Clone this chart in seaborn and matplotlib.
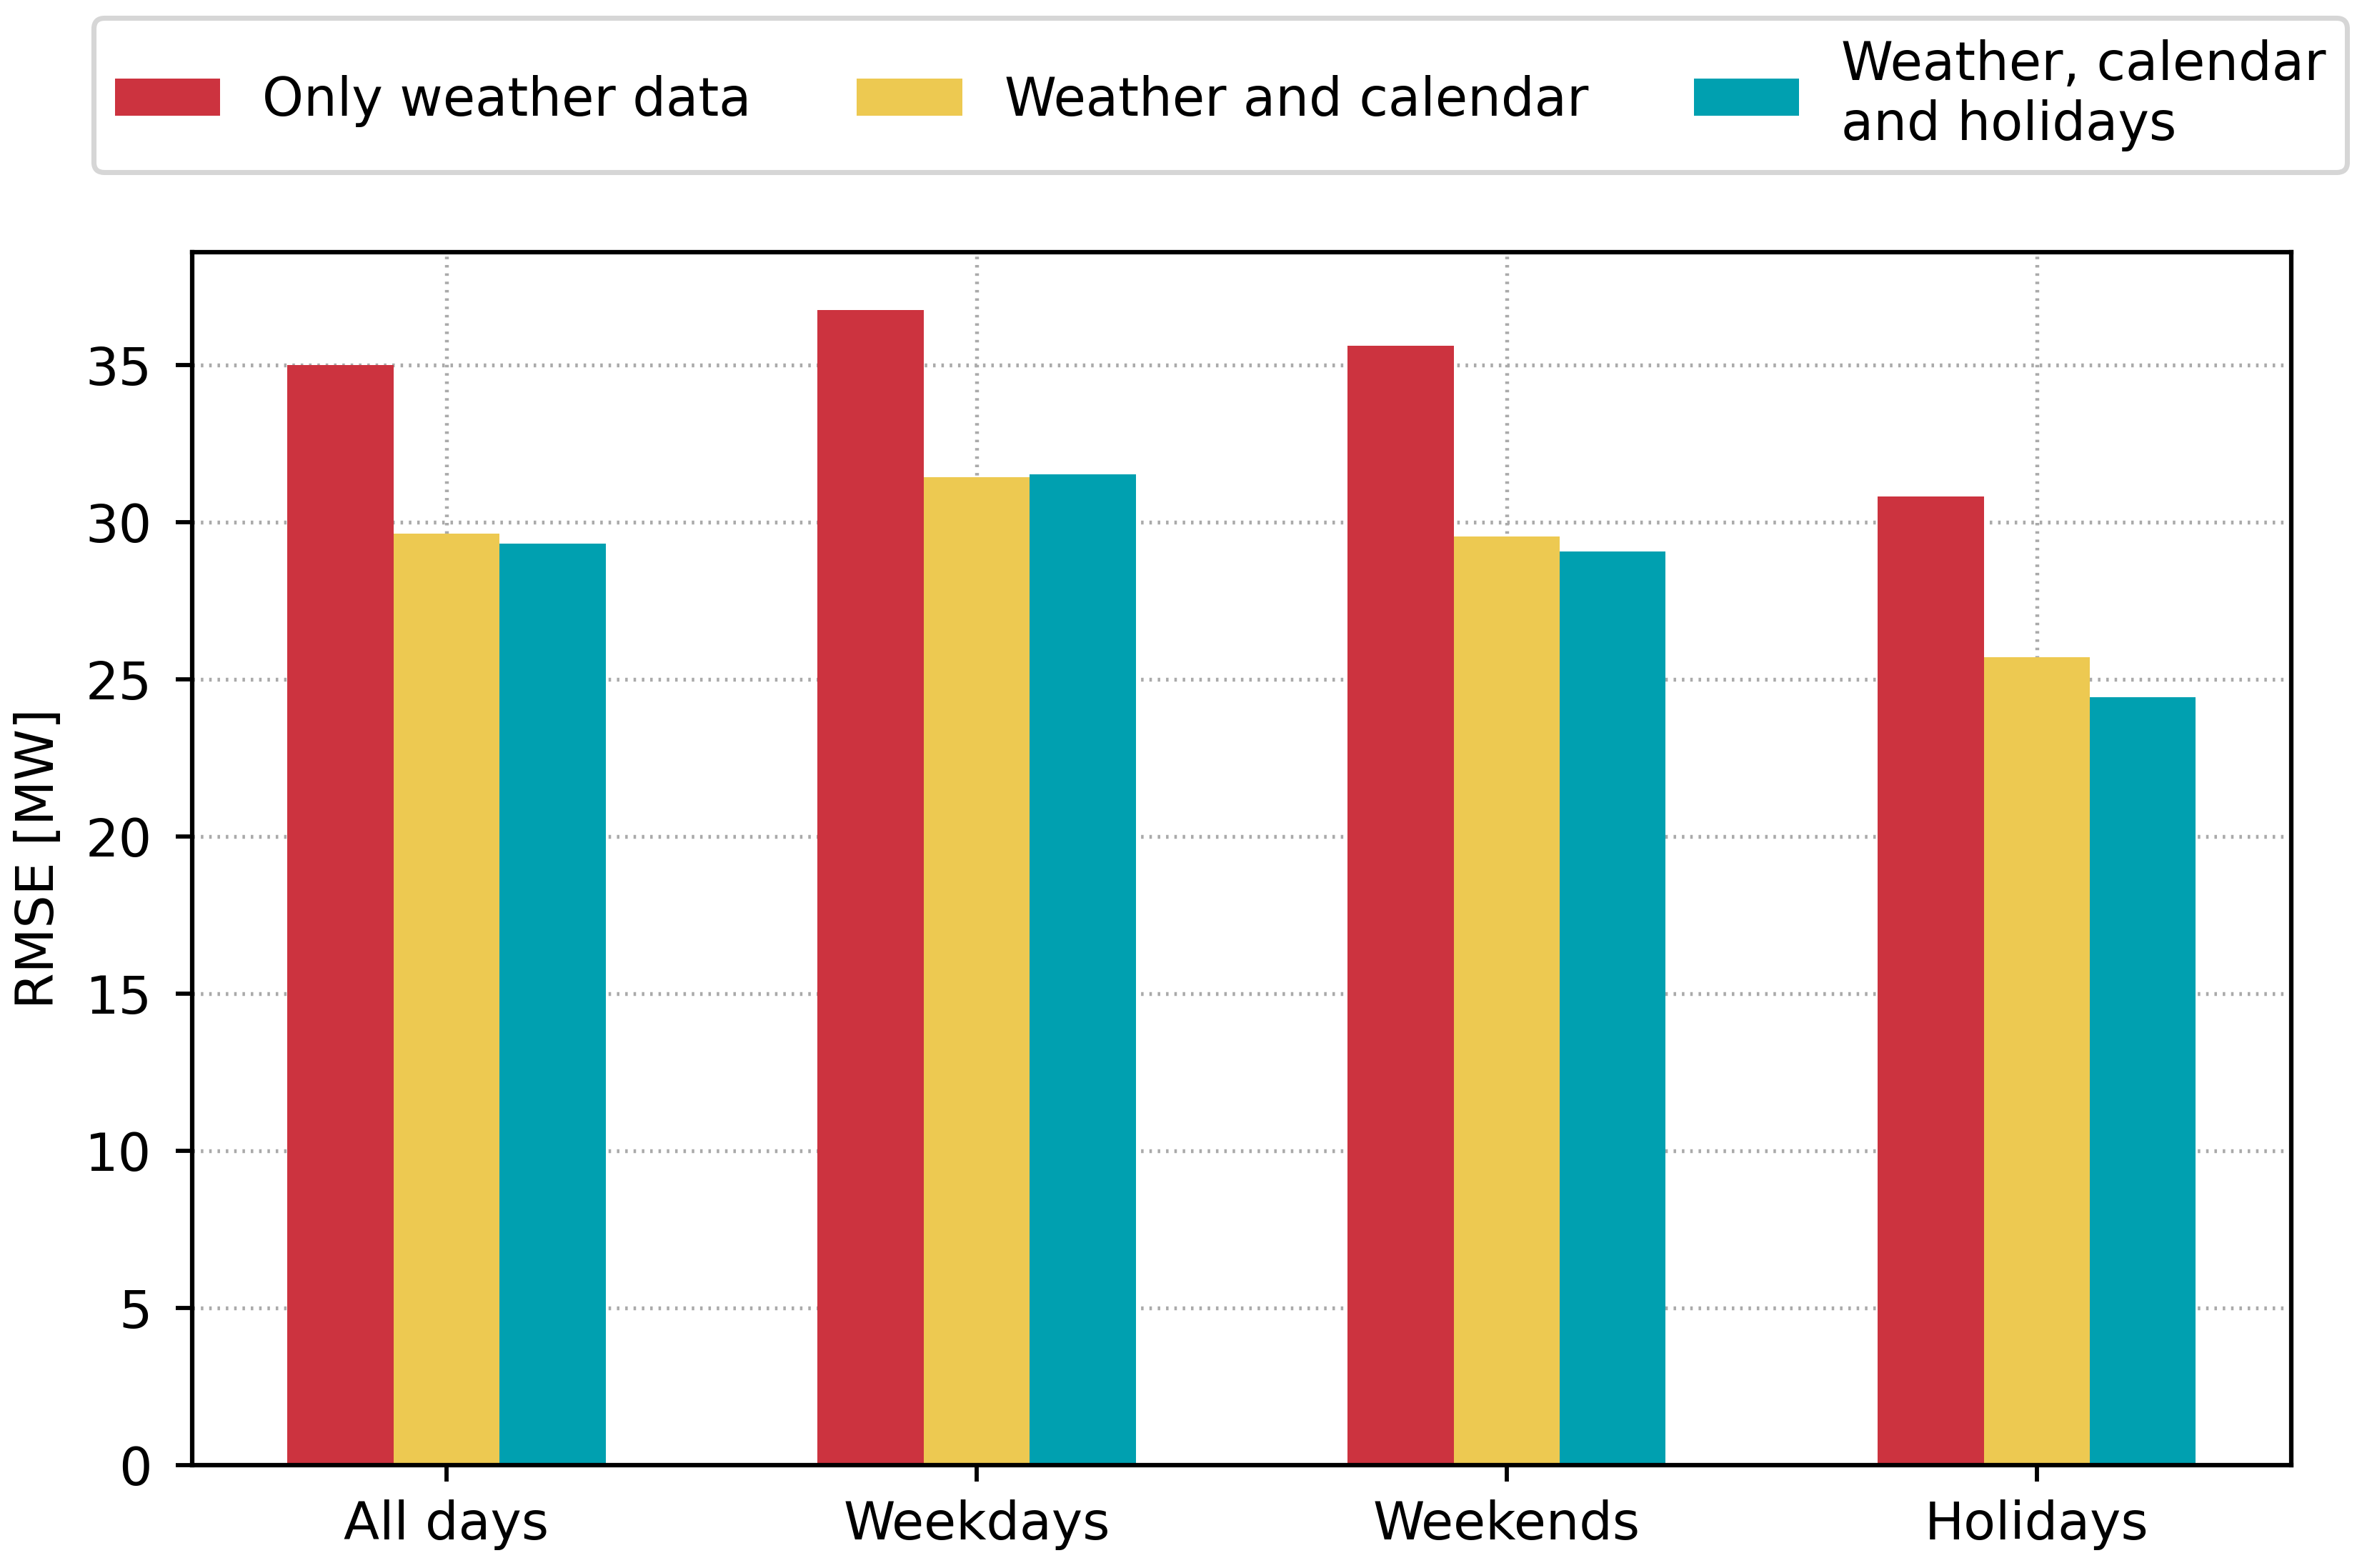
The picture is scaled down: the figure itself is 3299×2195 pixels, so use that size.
import matplotlib
matplotlib.use("Agg")
import matplotlib.pyplot as plt
import pandas as pd
import seaborn as sns

categories = ["All days", "Weekdays", "Weekends", "Holidays"]
series = ["Only weather data", "Weather and calendar", "Weather, calendar\nand holidays"]
only_weather = [34.99, 36.74, 35.60, 30.80]
weather_calendar = [29.63, 31.43, 29.54, 25.70]
weather_cal_holidays = [29.30, 31.52, 29.06, 24.42]
colors = ["#CC333F", "#EDC951", "#00A0B0"]

rows = []
for s, vals in zip(series, [only_weather, weather_calendar, weather_cal_holidays]):
    for c, v in zip(categories, vals):
        rows.append({"day": c, "model": s, "rmse": v})
df = pd.DataFrame(rows)

sns.set_style("white", rc={"text.color": "black", "axes.labelcolor": "black",
                           "xtick.color": "black", "ytick.color": "black"})
plt.rcParams["font.family"] = ["DejaVu Sans"]

fig = plt.figure(figsize=(3299 / 300, 2195 / 300), dpi=300)
ax = fig.add_axes([0.0815, 0.0656, 0.8906, 0.7736])

sns.barplot(data=df, x="day", y="rmse", hue="model", order=categories,
            hue_order=series, palette=colors, width=0.6, saturation=1,
            linewidth=0, errorbar=None, ax=ax)

ax.set_xlim(-0.48, 3.48)
ax.set_ylim(0, 38.58)
ax.set_yticks([0, 5, 10, 15, 20, 25, 30, 35])
ax.set_xlabel("")
ax.set_ylabel("RMSE [MW]", fontsize=17.5, labelpad=7, color="black")

# dotted grid behind the bars
ax.grid(True, linestyle=(0, (0.65, 1.5)), color="#aaaaaa", linewidth=1.3)
ax.set_axisbelow(True)
for sp in ax.spines.values():
    sp.set_visible(True)
    sp.set_color("black")
    sp.set_linewidth(1.5)
ax.tick_params(axis="both", direction="out", length=5.5, width=1.4,
               colors="black", labelsize=17.6, bottom=True, left=True)
ax.tick_params(axis="y", pad=8)
ax.tick_params(axis="x", pad=6)

handles, labels = ax.get_legend_handles_labels()
ax.get_legend().remove()
leg = fig.legend(handles, labels, loc="upper center", ncol=3,
                 bbox_to_anchor=(0.5178, 0.9886), borderaxespad=0,
                 fontsize=17.7, frameon=True, fancybox=True, framealpha=1,
                 borderpad=0.4, columnspacing=2.0)
leg.get_frame().set_edgecolor("#d6d6d6")
leg.get_frame().set_linewidth(1.7)

fig.savefig("out.png", dpi=300)
